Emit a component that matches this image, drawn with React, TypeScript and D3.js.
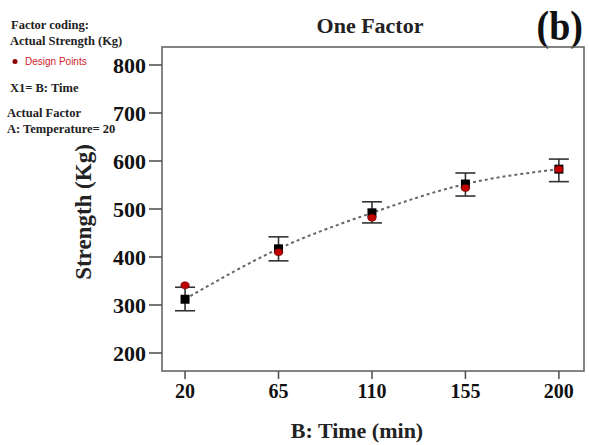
import React from "react";
import * as d3 from "d3";

const times = [20, 65, 110, 155, 200];
const predicted = [312, 417, 492, 552, 583];
const lower = [288, 392, 471, 527, 557];
const upper = [337, 442, 515, 575, 604];
const designPoints = [341, 410, 482, 544, 583];
const yTicks = [200, 300, 400, 500, 600, 700, 800];
const xTicks = [20, 65, 110, 155, 200];

const W = 589, H = 445;
const L = 162, R = 584, T = 47, B = 371;

export default function App() {
  const x = d3.scaleLinear().domain([8.9, 212.1]).range([L, R]);
  const y = d3.scaleLinear().domain([162.5, 837.5]).range([B, T]);
  const line = d3.line<number>().x((_, i) => x(times[i])).y((d) => y(d)).curve(d3.curveMonotoneX);
  const serif = "'Liberation Serif', 'Times New Roman', serif";
  return (
    <svg width={W} height={H} style={{ position: "absolute", left: 0, top: 0 }} fontFamily={serif}>
      <rect x={0} y={0} width={W} height={H} fill="#fff" />
      {/* legend text block */}
      <g fontWeight="bold" fontSize={12.5} fill="#222">
        <text x={11} y={29}>Factor coding:</text>
        <text x={10} y={45}>Actual Strength (Kg)</text>
        <text x={10} y={92}>X1= B: Time</text>
        <text x={7} y={117}>Actual Factor</text>
        <text x={7} y={133}>A: Temperature= 20</text>
      </g>
      <circle cx={15} cy={61.5} r={2.5} fill="#8b0000" />
      <text x={25} y={65} fontSize={10} fill="#d0202a" fontFamily="'Liberation Sans', Arial, sans-serif">Design Points</text>
      {/* title */}
      <text x={370} y={33} textAnchor="middle" fontWeight="bold" fontSize={22} fill="#222">One Factor</text>
      <text transform="translate(583,40) scale(1,1.12)" textAnchor="end" fontWeight="bold" fontSize={38} fill="#111">(b)</text>
      {/* plot box */}
      <rect x={L} y={T} width={R - L} height={B - T} fill="none" stroke="#666" strokeWidth={1.6} />
      {/* y ticks */}
      {yTicks.map((t) => (
        <g key={t}>
          <line x1={149} x2={L} y1={y(t)} y2={y(t)} stroke="#555" strokeWidth={1.6} />
          <text x={146} y={y(t) + 7.5} textAnchor="end" fontWeight="bold" fontSize={22} fill="#111">{t}</text>
        </g>
      ))}
      {/* x ticks */}
      {xTicks.map((t) => (
        <g key={t}>
          <line x1={x(t)} x2={x(t)} y1={B} y2={B + 8} stroke="#555" strokeWidth={1.6} />
          <text x={x(t)} y={398} textAnchor="middle" fontWeight="bold" fontSize={20} fill="#111">{t}</text>
        </g>
      ))}
      <text x={357} y={438} textAnchor="middle" fontWeight="bold" fontSize={22} fill="#222">B: Time (min)</text>
      <text transform={`translate(91,212) rotate(-90)`} textAnchor="middle" fontWeight="bold" fontSize={23} fill="#222">Strength (Kg)</text>
      {/* dashed fit line */}
      <path d={line(predicted) || ""} fill="none" stroke="#666" strokeWidth={2} strokeDasharray="3,3" />
      {/* error bars */}
      {times.map((t, i) => (
        <g key={t} stroke="#333" strokeWidth={1.6}>
          <line x1={x(t)} x2={x(t)} y1={y(lower[i])} y2={y(upper[i])} />
          <line x1={x(t) - 10} x2={x(t) + 10} y1={y(upper[i])} y2={y(upper[i])} />
          <line x1={x(t) - 10} x2={x(t) + 10} y1={y(lower[i])} y2={y(lower[i])} />
        </g>
      ))}
      {/* predicted squares */}
      {times.map((t, i) => (
        <rect key={t} x={x(t) - 4.5} y={y(predicted[i]) - 4.5} width={9} height={9} fill="#000" />
      ))}
      {/* design points */}
      {times.map((t, i) => (
        <ellipse key={t} cx={x(t)} cy={y(designPoints[i])} rx={4.2} ry={3.5} fill="#c00000" stroke="#600" strokeWidth={0.6} />
      ))}
    </svg>
  );
}
